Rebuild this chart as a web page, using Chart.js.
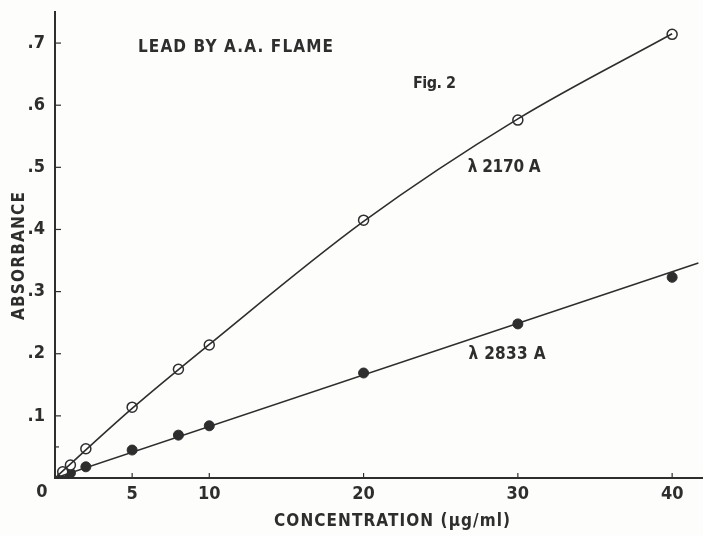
<!DOCTYPE html>
<html>
<head>
<meta charset="utf-8">
<script src="https://cdn.jsdelivr.net/npm/chart.js@4"></script>
<style>
  html, body { margin: 0; padding: 0; background: #fdfdfb; overflow: hidden; }
  #wrap { width: 703px; height: 536px; position: relative; }
  canvas { display: block; }
</style>
</head>
<body>
<div id="wrap"><canvas id="fig2"></canvas></div>
<script>
// readings from the plot
const conc = [0.5, 1, 2, 5, 8, 10, 20, 30, 40];
const abs2170 = [0.010, 0.021, 0.047, 0.114, 0.175, 0.214, 0.415, 0.576, 0.714];
const abs2833 = [0.004, 0.008, 0.018, 0.045, 0.069, 0.084, 0.169, 0.248, 0.323];

// drawn calibration curves
const curveConc = [0, 5, 10, 20, 30, 40];
const curve2170 = [0, 0.112, 0.215, 0.413, 0.578, 0.715];
const lineConc = [0, 41.7];
const line2833 = [0, 0.346];

const xTicks = [0, 5, 10, 20, 30, 40];
const yTicks = [0, 0.1, 0.2, 0.3, 0.4, 0.5, 0.6, 0.7];

const ink = '#2e2e2e';
const family = '"DejaVu Sans Condensed", "Liberation Sans Narrow", sans-serif';

const pts = (xs, ys) => xs.map((x, i) => ({ x: x, y: ys[i] }));

// draw text left-aligned, spread to a given width
function spread(ctx, text, x, y, width) {
  ctx.letterSpacing = '0px';
  const w = ctx.measureText(text).width;
  const gap = (width - w) / (text.length - 1);
  ctx.letterSpacing = gap.toFixed(2) + 'px';
  ctx.fillText(text, x, y);
  ctx.letterSpacing = '0px';
}

const notes = {
  id: 'notes',
  afterDraw(chart) {
    const ctx = chart.ctx;
    const xs = chart.scales.x, ys = chart.scales.y;
    ctx.save();
    ctx.strokeStyle = ink;
    ctx.lineWidth = 1.2;
    // inward tick marks
    yTicks.forEach(v => {
      if (v === 0) return;
      const py = ys.getPixelForValue(v);
      ctx.beginPath(); ctx.moveTo(xs.left, py); ctx.lineTo(xs.left + 6, py); ctx.stroke();
    });
    const half = ys.getPixelForValue(0.05);
    ctx.beginPath(); ctx.moveTo(xs.left, half); ctx.lineTo(xs.left + 4, half); ctx.stroke();
    xTicks.forEach(v => {
      if (v === 0) return;
      const px = xs.getPixelForValue(v);
      ctx.beginPath(); ctx.moveTo(px, ys.bottom); ctx.lineTo(px, ys.bottom - 5); ctx.stroke();
    });

    ctx.fillStyle = ink;
    ctx.textBaseline = 'middle';
    ctx.textAlign = 'center';
    ctx.font = 'bold 18px ' + family;
    ctx.fillText('0', xs.left - 13, ys.bottom + 14);

    ctx.textAlign = 'left';
    ctx.font = 'bold 17px ' + family;
    spread(ctx, 'LEAD BY A.A. FLAME', 138, 48, 195);
    spread(ctx, 'CONCENTRATION (\u00b5g/ml)', 274, 522, 236);
    ctx.font = 'bold 16px ' + family;
    spread(ctx, 'Fig. 2', xs.getPixelForValue(23.2), ys.getPixelForValue(0.634), 43);
    ctx.font = 'bold 17px ' + family;
    spread(ctx, '\u03bb 2170 A', xs.getPixelForValue(26.75), ys.getPixelForValue(0.50), 73);
    spread(ctx, '\u03bb 2833 A', xs.getPixelForValue(26.8), ys.getPixelForValue(0.198), 77);

    ctx.translate(20, 320);
    ctx.rotate(-Math.PI / 2);
    spread(ctx, 'ABSORBANCE', 0, 0, 128);
    ctx.restore();
  }
};

new Chart(document.getElementById('fig2'), {
  type: 'scatter',
  data: {
    datasets: [
      {
        label: 'curve 2170',
        data: pts(curveConc, curve2170),
        showLine: true,
        borderColor: ink,
        borderWidth: 1.6,
        pointRadius: 0,
        cubicInterpolationMode: 'monotone',
        fill: false
      },
      {
        label: 'line 2833',
        data: pts(lineConc, line2833),
        showLine: true,
        borderColor: ink,
        borderWidth: 1.6,
        pointRadius: 0,
        fill: false
      },
      {
        label: '\u03bb 2170 A',
        data: pts(conc, abs2170),
        pointRadius: 5,
        pointBackgroundColor: '#ffffff',
        pointBorderColor: ink,
        pointBorderWidth: 1.5
      },
      {
        label: '\u03bb 2833 A',
        data: pts(conc, abs2833),
        pointRadius: 5,
        pointBackgroundColor: ink,
        pointBorderColor: ink,
        pointBorderWidth: 1
      }
    ]
  },
  options: {
    responsive: true,
    maintainAspectRatio: false,
    animation: false,
    events: [],
    layout: { autoPadding: false, padding: { top: 12, right: 0, left: 0, bottom: 0 } },
    plugins: { legend: { display: false }, tooltip: { enabled: false } },
    scales: {
      x: {
        type: 'linear',
        min: 0,
        max: 42,
        afterBuildTicks: s => { s.ticks = xTicks.map(v => ({ value: v })); },
        afterFit: s => { s.height = 58; s.paddingLeft = 0; s.paddingRight = 0; },
        border: { color: ink, width: 2 },
        grid: { display: false, drawTicks: false },
        ticks: {
          padding: 6,
          color: ink,
          font: { family: family, size: 18, weight: 'bold' },
          callback: v => (v === 0 ? '' : String(v))
        }
      },
      y: {
        type: 'linear',
        min: 0,
        max: 0.75,
        afterBuildTicks: s => { s.ticks = yTicks.map(v => ({ value: v })); },
        afterFit: s => { s.width = 55; s.paddingTop = 0; s.paddingBottom = 0; },
        border: { color: ink, width: 2 },
        grid: { display: false, drawTicks: false },
        ticks: {
          padding: 10,
          color: ink,
          font: { family: family, size: 18, weight: 'bold' },
          callback: v => (v === 0 ? '' : '.' + Math.round(v * 10))
        }
      }
    }
  },
  plugins: [notes]
});
</script>
</body>
</html>
